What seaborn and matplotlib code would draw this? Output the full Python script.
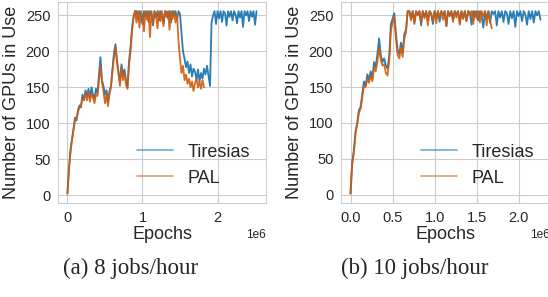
"""
GPU usage over time for Tiresias vs PAL, at two arrival rates.
"""

import numpy as np
import pandas as pd
import matplotlib
matplotlib.use('Agg')
import matplotlib.pyplot as plt
import seaborn as sns

# sampling interval of the traces (epochs between readings)
EPOCH_STEP = 20000

# (a) 8 jobs/hour
tiresias_8 = [
    3, 38, 62, 78, 92, 108, 104, 118, 125, 122, 140, 132, 146, 138, 148, 136,
    150, 140, 134, 148, 142, 168, 192, 160, 152, 140, 146, 130, 145, 152, 176,
    198, 210, 188, 172, 158, 182, 166, 175, 160, 150, 186, 205, 232, 248, 256,
    256, 244, 256, 250, 238, 256, 248, 256, 241, 256, 252, 236, 256, 247, 256,
    243, 256, 250, 239, 256, 255, 246, 256, 240, 256, 249, 256, 244, 256, 252,
    225, 200, 190, 178, 186, 170, 182, 165, 176, 172, 160, 175, 158, 170, 162,
    176, 168, 180, 166, 152, 240,
    250, 256, 238, 256, 246, 256, 241, 256, 253, 236, 256, 248, 256, 243, 256,
    251, 239, 256, 247, 256, 234, 256, 250, 256, 242, 256, 248, 256, 237, 256,
]
pal_8 = [
    2, 35, 60, 76, 90, 104, 106, 115, 122, 124, 136, 134, 140, 132, 144, 130,
    142, 136, 128, 140, 138, 160, 180, 158, 145, 128, 140, 124, 140, 150, 172,
    192, 206, 185, 168, 152, 178, 160, 170, 154, 148, 180, 200, 228, 246, 256,
    240, 256, 233, 256, 248, 228, 256, 244, 256, 220, 256, 238, 256, 250, 232,
    256, 242, 256, 235, 256, 248, 256, 230, 256, 245, 256, 240,
    252, 215, 190, 170, 180, 160, 168, 155, 162, 150, 158, 145, 156, 162, 150,
    158, 148, 160, 150,
]

# (b) 10 jobs/hour
tiresias_10 = [
    2, 45, 62, 88, 100, 118, 122, 140, 158, 152, 168, 160, 172, 162, 185, 178,
    196, 218, 195, 185, 190, 180, 176, 192, 238, 245, 253, 226, 202, 196, 212,
    198, 224, 230, 256,
    256, 246, 256, 240, 256, 251, 256, 236, 256, 248, 256, 243, 256, 253, 238,
    256, 247, 256, 241, 256, 250, 256, 235, 256, 249, 256, 244, 256, 252, 256,
    239, 256, 246, 256, 242, 256, 254, 237, 256, 248, 256, 243, 256, 250, 233,
    256, 245, 256, 240, 256, 252, 256, 236, 256, 247, 256, 241, 256, 253, 238,
    256, 246, 256, 234, 256, 249, 256, 242, 256, 251, 237, 256, 245, 256, 240,
    256, 250, 256, 244,
]
pal_10 = [
    1, 42, 58, 85, 98, 114, 120, 136, 152, 150, 162, 156, 166, 158, 178, 172,
    186, 205, 188, 180, 182, 170, 166, 185, 228, 240, 248, 218, 195, 190, 205,
    192, 218, 226, 256,
    256, 243, 256, 238, 256, 250, 256, 240, 256, 246, 256, 236, 256, 252, 242,
    256, 239, 256, 248, 256, 244, 256, 235, 256, 250, 256, 241, 256, 247, 256,
    237, 256, 245, 256, 242, 256, 251, 256, 238, 256, 246, 256, 240, 256, 249,
    256, 236, 256, 243, 232,
]

captions = ['(a) 8 jobs/hour', '(b) 10 jobs/hour']
panels = [(tiresias_8, pal_8), (tiresias_10, pal_10)]
x_ticks = [
    [0, 1e6, 2e6],
    [0, 0.5e6, 1e6, 1.5e6, 2e6],
]
COLORS = {'Tiresias': '#1170ae', 'PAL': '#d35a0a'}


def to_frame(values):
    """Turn a trace into an epoch/usage frame."""
    return pd.DataFrame({
        'epoch': np.arange(len(values)) * EPOCH_STEP,
        'gpus': values,
    })


sns.set_style('whitegrid')
plt.rcParams['font.family'] = ['Liberation Sans', 'DejaVu Sans']

fig = plt.figure(figsize=(5.48, 2.97), dpi=100)
ax_rects = [
    [58 / 548, 94 / 297, 208 / 548, 201 / 297],
    [341 / 548, 94 / 297, 209 / 548, 201 / 297],
]

for rect, (tir, pal), cap, xt in zip(ax_rects, panels, captions, x_ticks):
    ax = fig.add_axes(rect)
    sns.lineplot(data=to_frame(tir), x='epoch', y='gpus', ax=ax,
                 color=COLORS['Tiresias'], linewidth=1.3, alpha=0.9,
                 label='Tiresias', estimator=None)
    sns.lineplot(data=to_frame(pal), x='epoch', y='gpus', ax=ax,
                 color=COLORS['PAL'], linewidth=1.3, alpha=0.9,
                 label='PAL', estimator=None)
    ax.set_yticks([0, 50, 100, 150, 200, 250])
    ax.set_xticks(xt)
    ax.set_xlabel('Epochs', fontsize=13, labelpad=1)
    ax.set_ylabel('Number of GPUs in Use', fontsize=13, labelpad=4)
    ax.tick_params(labelsize=10.5, pad=2)
    ax.xaxis.get_offset_text().set_fontsize(8.5)
    leg = ax.legend(loc='lower right', frameon=False, fontsize=13)
    for h in leg.get_lines():
        h.set_linewidth(1.2)
        h.set_alpha(0.6)

    cx = rect[0] + rect[2] / 2 - 31 / 548
    fig.text(cx, 1 - 268 / 297, cap, ha='center', va='center',
             fontsize=16.5, family=['Liberation Serif', 'DejaVu Serif'])

fig.savefig('out.png', dpi=100)
plt.close(fig)
